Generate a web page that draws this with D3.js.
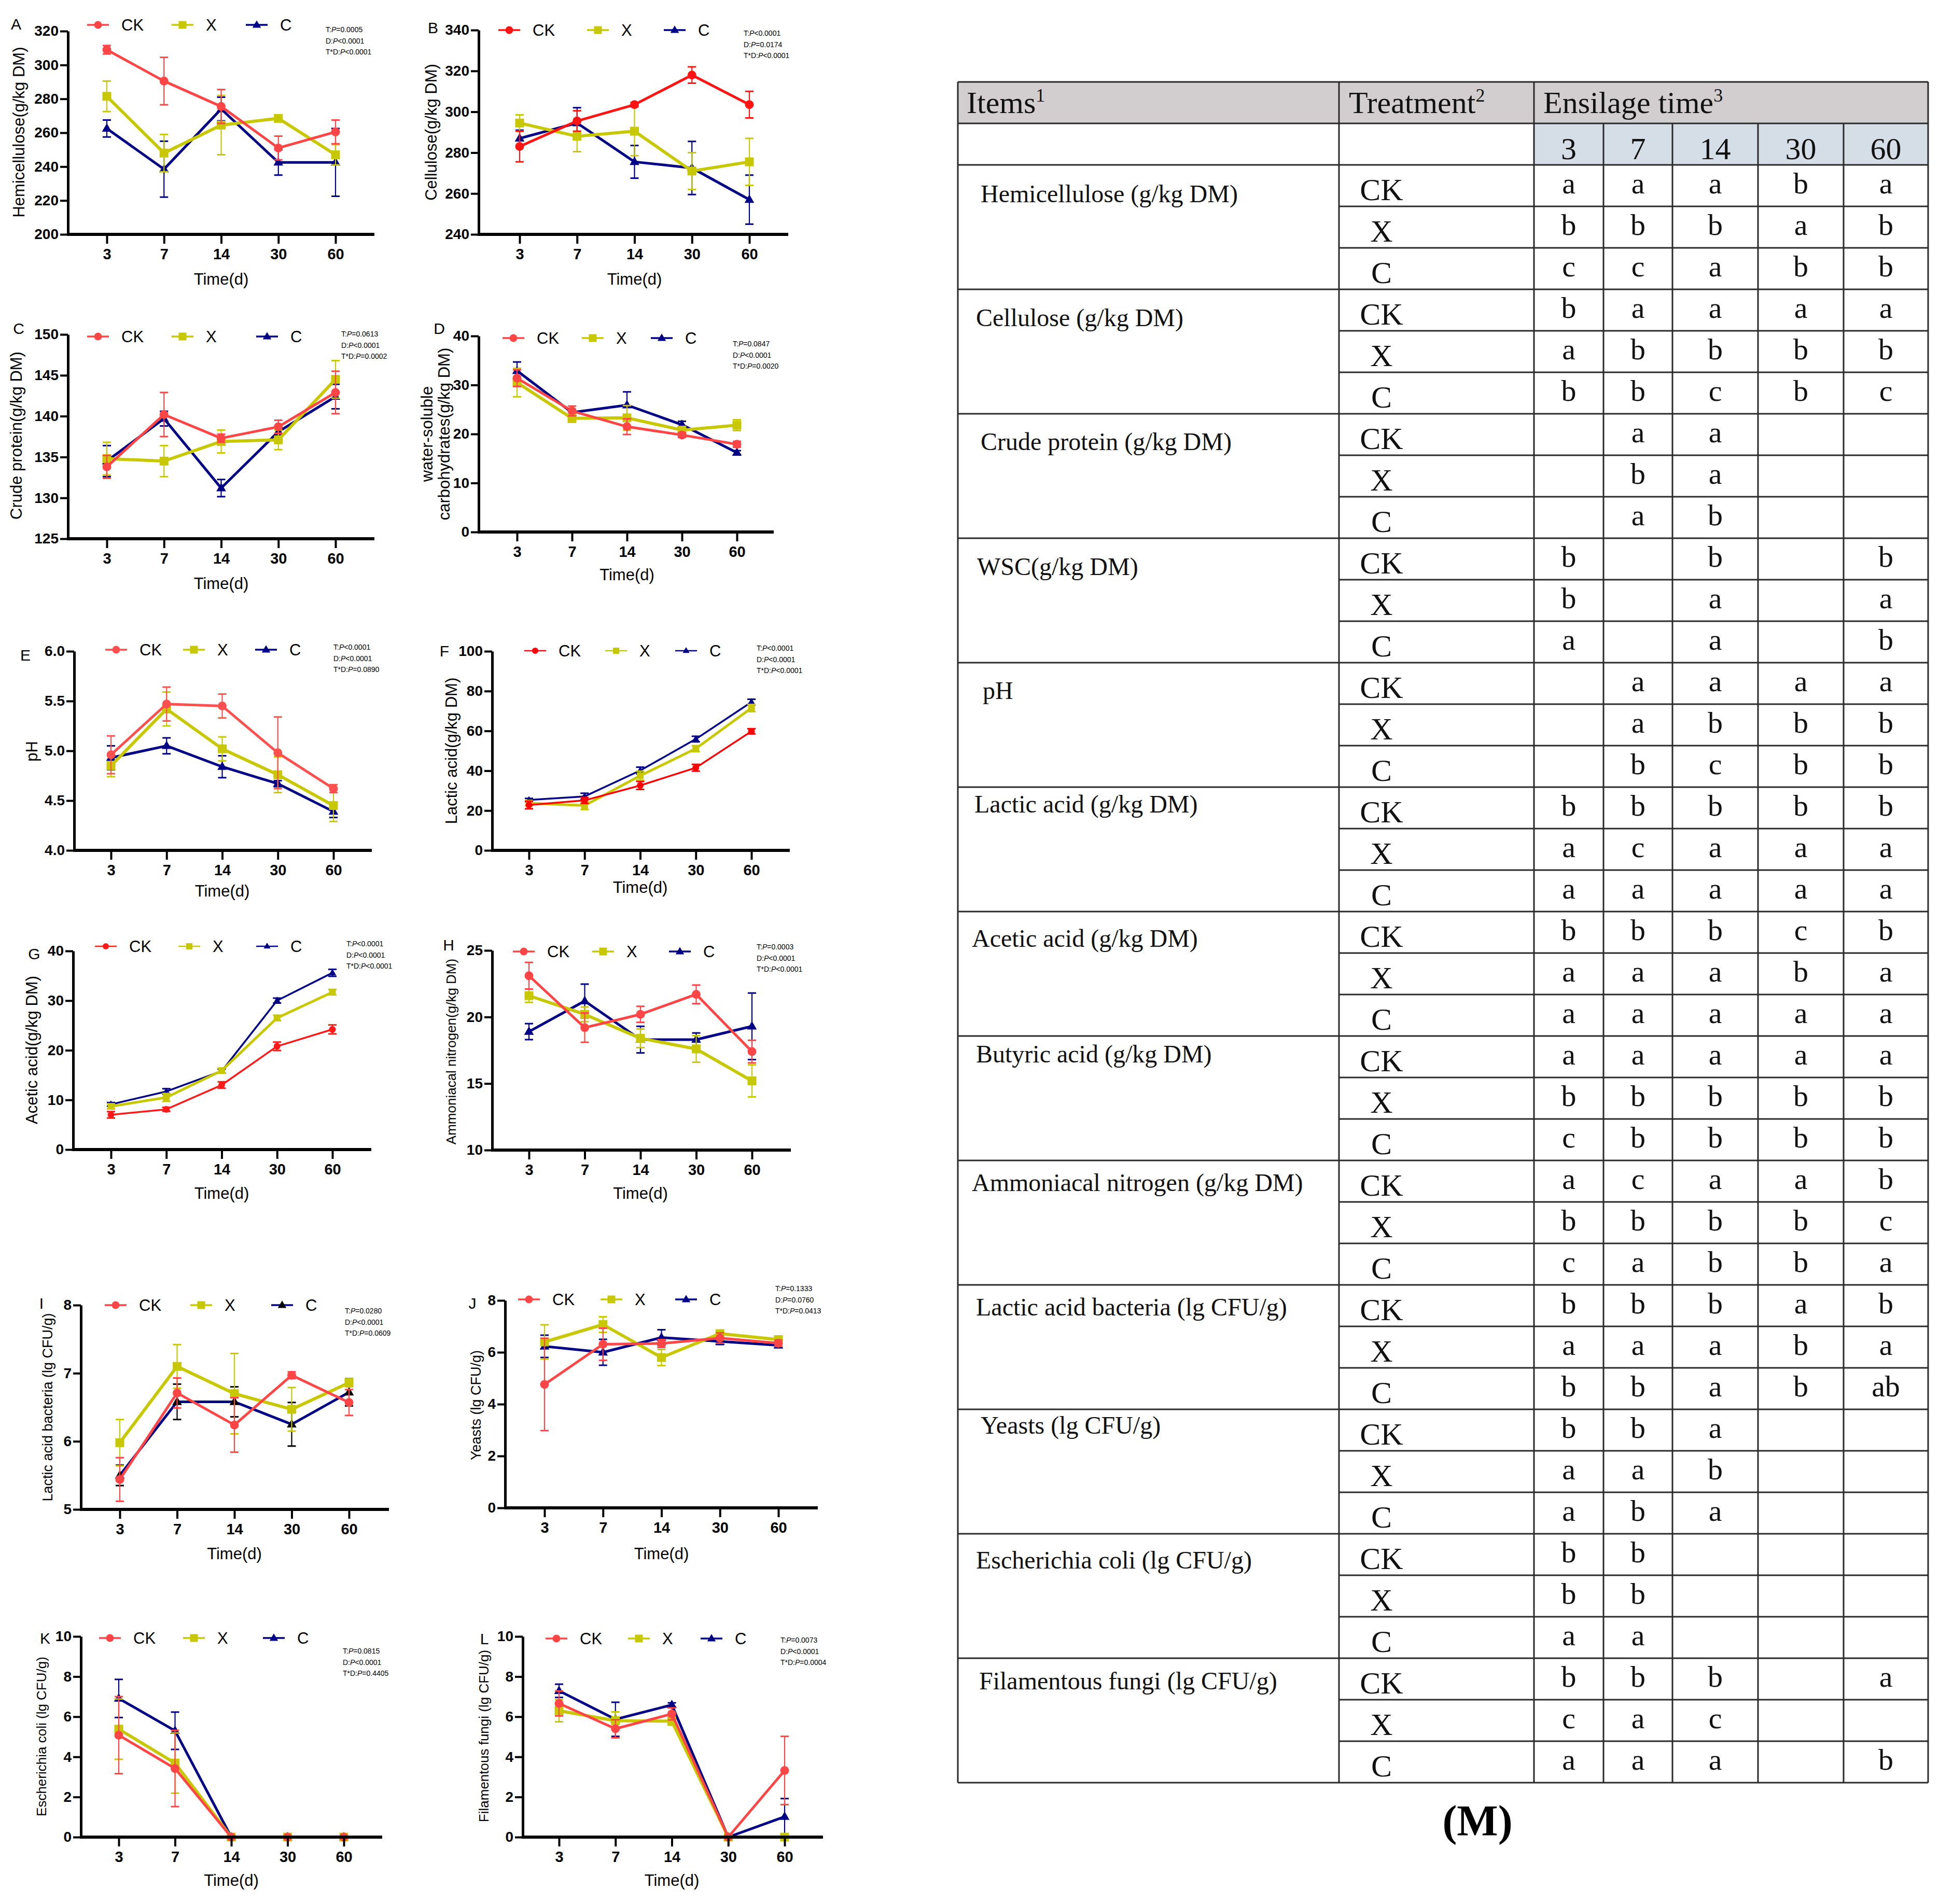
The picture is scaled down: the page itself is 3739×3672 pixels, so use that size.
<!DOCTYPE html>
<html><head><meta charset="utf-8">
<script src="https://cdn.jsdelivr.net/npm/d3@7/dist/d3.min.js"></script>
<style>body{margin:0;background:#fff}svg{display:block}</style>
</head><body>
<script>
const W = 3739, H = 3672;
const times = ["3", "7", "14", "30", "60"];
const treatments = ["CK", "X", "C"];

// ---- Panel A: Hemicellulose
const hemiCK = [309, 290.5, 275.5, 251, 260.5], hemiCKErr = [2.5, 14, 10, 7, 7];
const hemiX = [281.5, 248, 264.5, 268.5, 247], hemiXErr = [9, 11, 17.5, 2, 6];
const hemiC = [262.5, 238.5, 274, 242.5, 242.5], hemiCErr = [5, 16.5, 7, 7.5, 20];
// ---- Panel B: Cellulose
const celCK = [283, 295.5, 303.5, 318, 303.5], celCKErr = [7.5, 5, 1, 4, 6.5];
const celX = [294.5, 288, 290.5, 271, 275.5], celXErr = [4, 7.5, 12, 9, 11.5];
const celC = [287, 294.5, 275.5, 272.5, 257], celCErr = [4, 7.5, 8, 13, 12];
// ---- Panel C: Crude protein
const cpCK = [133.8, 140.2, 137.3, 138.7, 142.9], cpCKErr = [1.4, 2.7, 0.5, 0.8, 2.6];
const cpX = [134.8, 134.5, 136.9, 137.1, 144.5], cpXErr = [2, 1.9, 1.4, 1.2, 2.3];
const cpC = [134.5, 139.7, 131.2, 138.1, 142.4], cpCErr = [1.9, 0.9, 1.05, 0.5, 1.5];
// ---- Panel D: WSC
const wscCK = [31.4, 24.7, 21.5, 19.8, 17.9], wscCKErr = [1.7, 1, 1.6, 0.5, 0.6];
const wscX = [30.5, 23.2, 23.3, 20.8, 21.8], wscXErr = [2.9, 0.8, 2.5, 0.5, 1.1];
const wscC = [32.9, 24.4, 25.9, 21.9, 16.2], wscCErr = [1.8, 0.6, 2.7, 0.7, 0.4];
// ---- Panel E: pH
const phCK = [4.96, 5.47, 5.45, 4.98, 4.62], phCKErr = [0.19, 0.17, 0.12, 0.36, 0.04];
const phX = [4.85, 5.42, 5.02, 4.76, 4.45], phXErr = [0.11, 0.17, 0.12, 0.18, 0.16];
const phC = [4.93, 5.05, 4.84, 4.67, 4.39], phCErr = [0.12, 0.08, 0.11, 0.03, 0.06];
// ---- Panel F: Lactic acid
const laCK = [22.8, 25.1, 32.6, 41.5, 59.8], laCKErr = [1.9, 1.5, 2, 1.7, 1.3];
const laX = [23.7, 22.5, 37.5, 51.1, 71.5], laXErr = [1.3, 2, 2.3, 1.5, 1.8];
const laC = [25.3, 27.1, 40.1, 55.9, 74.5], laCErr = [0.8, 1.6, 1.7, 1.4, 1.4];
// ---- Panel G: Acetic acid
const aaCK = [7.0, 8.1, 13.0, 20.8, 24.2], aaCKErr = [0.65, 0.4, 0.65, 0.85, 0.9];
const aaX = [8.7, 10.5, 15.9, 26.5, 31.7], aaXErr = [0.5, 0.8, 0.5, 0.55, 0.55];
const aaC = [9.1, 11.7, 15.8, 30.0, 35.6], aaCErr = [0.37, 0.55, 0.4, 0.5, 0.7];
// ---- Panel H: Ammoniacal nitrogen
const anCK = [23.1, 19.2, 20.2, 21.7, 17.4], anCKErr = [1.0, 1.1, 0.6, 0.7, 0.85];
const anX = [21.6, 20.2, 18.4, 17.6, 15.2], anXErr = [0.5, 0.55, 0.7, 1.0, 1.2];
const anC = [18.9, 21.2, 18.3, 18.3, 19.3], anCErr = [0.6, 1.27, 1.0, 0.5, 2.5];
// ---- Panel I: Lactic acid bacteria
const labCK = [5.44, 6.71, 6.24, 6.97, 6.57], labCKErr = [0.32, 0.22, 0.4, 0.05, 0.19];
const labX = [5.98, 7.1, 6.7, 6.47, 6.86], labXErr = [0.34, 0.32, 0.59, 0.32, 0.06];
const labC = [5.5, 6.58, 6.58, 6.25, 6.72], labCErr = [0.15, 0.26, 0.22, 0.32, 0.2];
// ---- Panel J: Yeasts
const yeCK = [4.76, 6.31, 6.34, 6.55, 6.35], yeCKErr = [1.78, 0.62, 0.15, 0.2, 0.12];
const yeX = [6.4, 7.07, 5.8, 6.72, 6.49], yeXErr = [0.66, 0.3, 0.31, 0.1, 0.08];
const yeC = [6.23, 6.0, 6.57, 6.42, 6.27], yeCErr = [0.43, 0.5, 0.3, 0.12, 0.08];
// ---- Panel K: Escherichia coli
const ecCK = [5.08, 3.42, 0, 0, 0], ecCKErr = [1.92, 1.9, 0, 0, 0];
const ecX = [5.38, 3.69, 0, 0, 0], ecXErr = [1.5, 1.5, 0, 0, 0];
const ecC = [6.91, 5.3, 0, 0, 0], ecCErr = [0.95, 0.93, 0, 0, 0];
// ---- Panel L: Filamentous fungi
const ffCK = [6.66, 5.4, 6.14, 0, 3.32], ffCKErr = [0.62, 0.45, 0.3, 0, 1.7];
const ffX = [6.3, 5.8, 5.78, 0, 0], ffXErr = [0.55, 0.44, 0.2, 0, 0];
const ffC = [7.29, 5.87, 6.59, 0, 1.02], ffCErr = [0.33, 0.85, 0.1, 0, 0.9];

// ---- axis tick values
const ticksA = [200, 220, 240, 260, 280, 300, 320];
const ticksB = [240, 260, 280, 300, 320, 340];
const ticksC = [125, 130, 135, 140, 145, 150];
const ticksD = [0, 10, 20, 30, 40];
const ticksE = [4.0, 4.5, 5.0, 5.5, 6.0];
const ticksF = [0, 20, 40, 60, 80, 100];
const ticksG = [0, 10, 20, 30, 40];
const ticksH = [10, 15, 20, 25];
const ticksI = [5, 6, 7, 8];
const ticksJ = [0, 2, 4, 6, 8];
const ticksK = [0, 2, 4, 6, 8, 10];
const ticksL = [0, 2, 4, 6, 8, 10];

// ---- statistics texts
const statsA = ["T:|P|=0.0005", "D:|P|<0.0001", "T*D:|P|<0.0001"];
const statsB = ["T:|P|<0.0001", "D:|P|=0.0174", "T*D:|P|<0.0001"];
const statsC = ["T:|P|=0.0613", "D:|P|<0.0001", "T*D:|P|=0.0002"];
const statsD = ["T:|P|=0.0847", "D:|P|<0.0001", "T*D:|P|=0.0020"];
const statsE = ["T:|P|<0.0001", "D:|P|<0.0001", "T*D:|P|=0.0890"];
const statsF = ["T:|P|<0.0001", "D:|P|<0.0001", "T*D:|P|<0.0001"];
const statsG = ["T:|P|<0.0001", "D:|P|<0.0001", "T*D:|P|<0.0001"];
const statsH = ["T:|P|=0.0003", "D:|P|<0.0001", "T*D:|P|<0.0001"];
const statsI = ["T:|P|=0.0280", "D:|P|<0.0001", "T*D:|P|=0.0609"];
const statsJ = ["T:|P|=0.1333", "D:|P|=0.0760", "T*D:|P|=0.0413"];
const statsK = ["T:|P|=0.0815", "D:|P|<0.0001", "T*D:|P|=0.4405"];
const statsL = ["T:|P|=0.0073", "D:|P|<0.0001", "T*D:|P|=0.0004"];

// ---- table
const tableItems = ["Hemicellulose (g/kg DM)", "Cellulose (g/kg DM)", "Crude protein (g/kg DM)", "WSC(g/kg DM)", "pH",
  "Lactic acid (g/kg DM)", "Acetic acid (g/kg DM)", "Butyric acid (g/kg DM)", "Ammoniacal nitrogen (g/kg DM)",
  "Lactic acid bacteria (lg CFU/g)", "Yeasts (lg CFU/g)", "Escherichia coli (lg CFU/g)", "Filamentous fungi (lg CFU/g)"];
const lettersHemi = [["a","a","a","b","a"],["b","b","b","a","b"],["c","c","a","b","b"]];
const lettersCel = [["b","a","a","a","a"],["a","b","b","b","b"],["b","b","c","b","c"]];
const lettersCP = [["","a","a","",""],["","b","a","",""],["","a","b","",""]];
const lettersWSC = [["b","","b","","b"],["b","","a","","a"],["a","","a","","b"]];
const lettersPH = [["","a","a","a","a"],["","a","b","b","b"],["","b","c","b","b"]];
const lettersLA = [["b","b","b","b","b"],["a","c","a","a","a"],["a","a","a","a","a"]];
const lettersAA = [["b","b","b","c","b"],["a","a","a","b","a"],["a","a","a","a","a"]];
const lettersBA = [["a","a","a","a","a"],["b","b","b","b","b"],["c","b","b","b","b"]];
const lettersAN = [["a","c","a","a","b"],["b","b","b","b","c"],["c","a","b","b","a"]];
const lettersLAB = [["b","b","b","a","b"],["a","a","a","b","a"],["b","b","a","b","ab"]];
const lettersYE = [["b","b","a","",""],["a","a","b","",""],["a","b","a","",""]];
const lettersEC = [["b","b","","",""],["b","b","","",""],["a","a","","",""]];
const lettersFF = [["b","b","b","","a"],["c","a","c","",""],["a","a","a","","b"]];
const tableLetters = [lettersHemi, lettersCel, lettersCP, lettersWSC, lettersPH, lettersLA, lettersAA,
  lettersBA, lettersAN, lettersLAB, lettersYE, lettersEC, lettersFF];

// ================= drawing =================
const SANS = "'Liberation Sans', Arial, Helvetica, sans-serif";
const SERIF = "'Liberation Serif', 'Times New Roman', serif";
const NAVY = "#000086", OLIVE = "#c8c800";

const svg = d3.select("body").append("svg").attr("width", W).attr("height", H)
  .attr("viewBox", `0 0 ${W} ${H}`).style("background", "#fff");

const panels = [
  {id:"A", title:["Hemicellulose(g/kg DM)"], tfs:31, dom:[200,320], ticks:ticksA, fmt:d3.format("d"),
   data:{CK:[hemiCK,hemiCKErr], X:[hemiX,hemiXErr], C:[hemiC,hemiCErr]}, stats:statsA, ck:"#ff4545",
   L:{ax:131, top:60, bottom:452, xEnd:722, t0:206, t4:647, legY:48, legX:[189,352,495], sx:628, sy:57, lx:31, ly:46, tx:[36], ty:255, timeY:538}},
  {id:"B", title:["Cellulose(g/kg DM)"], tfs:31, dom:[240,340], ticks:ticksB, fmt:d3.format("d"),
   data:{CK:[celCK,celCKErr], X:[celX,celXErr], C:[celC,celCErr]}, stats:statsB, ck:"#ff1414",
   L:{ax:923, top:58, bottom:452, xEnd:1520, t0:1002, t4:1445, legY:58, legX:[982,1153,1301], sx:1434, sy:64, lx:835, ly:53, tx:[831], ty:255, timeY:538}},
  {id:"C", title:["Crude protein(g/kg DM)"], tfs:31, dom:[125,150], ticks:ticksC, fmt:d3.format("d"),
   data:{CK:[cpCK,cpCKErr], X:[cpX,cpXErr], C:[cpC,cpCErr]}, stats:statsC, ck:"#ff4545",
   L:{ax:131, top:645, bottom:1039, xEnd:722, t0:206, t4:647, legY:649, legX:[189,352,515], sx:658, sy:644, lx:36, ly:633, tx:[31], ty:840, timeY:1125}},
  {id:"D", title:["water-soluble","carbohydrates(g/kg DM)"], tfs:31, dom:[0,40], ticks:ticksD, fmt:d3.format("d"),
   data:{CK:[wscCK,wscCKErr], X:[wscX,wscXErr], C:[wscC,wscCErr]}, stats:statsD, ck:"#ff4545",
   L:{ax:923, top:648, bottom:1026, xEnd:1492, t0:997, t4:1421, legY:652, legX:[990,1143,1276], sx:1413, sy:663, lx:847, ly:633, tx:[823,856], ty:837, timeY:1108}},
  {id:"E", title:["pH"], tfs:31, dom:[4,6], ticks:ticksE, fmt:d3.format(".1f"),
   data:{CK:[phCK,phCKErr], X:[phX,phXErr], C:[phC,phCErr]}, stats:statsE, ck:"#ff5050",
   L:{ax:143, top:1256, bottom:1640, xEnd:717, t0:214, t4:643, legY:1253, legX:[224,374,513], sx:643, sy:1248, lx:49, ly:1263, tx:[61], ty:1449, timeY:1718}},
  {id:"F", title:["Lactic acid(g/kg DM)"], tfs:31, dom:[0,100], ticks:ticksF, fmt:d3.format("d"),
   data:{CK:[laCK,laCKErr], X:[laX,laXErr], C:[laC,laCErr]}, stats:statsF, ck:"#ff0000", thin:true,
   L:{ax:949, top:1256, bottom:1640, xEnd:1523, t0:1020, t4:1449, legY:1255, legX:[1032,1188,1323], sx:1459, sy:1250, lx:857, ly:1255, tx:[870], ty:1448, timeY:1711}},
  {id:"G", title:["Acetic acid(g/kg DM)"], tfs:31, dom:[0,40], ticks:ticksG, fmt:d3.format("d"),
   data:{CK:[aaCK,aaCKErr], X:[aaX,aaXErr], C:[aaC,aaCErr]}, stats:statsG, ck:"#ff1a1a", thin:true,
   L:{ax:141, top:1834, bottom:2217, xEnd:716, t0:214, t4:641, legY:1825, legX:[204,365,515], sx:668, sy:1820, lx:66, ly:1839, tx:[61], ty:2025, timeY:2301}},
  {id:"H", title:["Ammoniacal nitrogen(g/kg DM)"], tfs:26, dom:[10,25], ticks:ticksH, fmt:d3.format("d"),
   data:{CK:[anCK,anCKErr], X:[anX,anXErr], C:[anC,anCErr]}, stats:statsH, ck:"#ff4545",
   L:{ax:949, top:1833, bottom:2218, xEnd:1525, t0:1020, t4:1450, legY:1835, legX:[1010,1163,1311], sx:1459, sy:1826, lx:865, ly:1822, tx:[870], ty:2028, timeY:2301}},
  {id:"I", title:["Lactic acid bacteria (lg CFU/g)"], tfs:27, dom:[5,8], ticks:ticksI, fmt:d3.format("d"),
   data:{CK:[labCK,labCKErr], X:[labX,labXErr], C:[labC,labCErr]}, stats:statsI, ck:"#ff4545", cMarker:"#000",
   L:{ax:156, top:2517, bottom:2911, xEnd:750, t0:231, t4:673, legY:2517, legX:[223,388,544], sx:665, sy:2528, lx:80, ly:2513, tx:[92], ty:2714, timeY:2996}},
  {id:"J", title:["Yeasts (lg CFU/g)"], tfs:27, dom:[0,8], ticks:ticksJ, fmt:d3.format("d"),
   data:{CK:[yeCK,yeCKErr], X:[yeX,yeXErr], C:[yeC,yeCErr]}, stats:statsJ, ck:"#ff4545",
   L:{ax:974, top:2508, bottom:2908, xEnd:1577, t0:1050, t4:1501, legY:2506, legX:[1020,1179,1323], sx:1495, sy:2485, lx:911, ly:2513, tx:[918], ty:2710, timeY:2996}},
  {id:"K", title:["Escherichia coli (lg CFU/g)"], tfs:26, dom:[0,10], ticks:ticksK, fmt:d3.format("d"),
   data:{CK:[ecCK,ecCKErr], X:[ecX,ecXErr], C:[ecC,ecCErr]}, stats:statsK, ck:"#ff4545",
   L:{ax:156, top:3156, bottom:3543, xEnd:737, t0:229, t4:663, legY:3159, legX:[212,374,528], sx:661, sy:3184, lx:87, ly:3159, tx:[80], ty:3349, timeY:3626}},
  {id:"L", title:["Filamentous fungi (lg CFU/g)"], tfs:26, dom:[0,10], ticks:ticksL, fmt:d3.format("d"),
   data:{CK:[ffCK,ffCKErr], X:[ffX,ffXErr], C:[ffC,ffCErr]}, stats:statsL, ck:"#ff4545",
   L:{ax:1008, top:3156, bottom:3543, xEnd:1587, t0:1078, t4:1513, legY:3160, legX:[1073,1232,1372], sx:1505, sy:3163, lx:934, ly:3160, tx:[933], ty:3348, timeY:3626}}
];

function markerPath(shape, r) {
  if (shape === "circle") return d3.symbol(d3.symbolCircle, Math.PI * r * r)();
  if (shape === "square") return `M${-r},${-r}H${r}V${r}H${-r}Z`;
  const h = r * 1.9;
  return `M0,${-h * 0.62}L${r * 1.1},${h * 0.38}L${-r * 1.1},${h * 0.38}Z`;
}

function drawPanel(p) {
  const L = p.L;
  const g = svg.append("g").attr("class", "panel-" + p.id);
  const x = d3.scalePoint().domain(times).range([L.t0, L.t4]);
  const y = d3.scaleLinear().domain(p.dom).range([L.bottom, L.top]);

  const colors = {CK: p.ck, X: OLIVE, C: NAVY};
  const markColors = {CK: p.ck, X: OLIVE, C: p.cMarker || NAVY};
  const shapes = {CK: "circle", X: "square", C: "triangle"};
  const lw = p.thin ? {CK: 3.5, X: 5, C: 3.5} : {CK: 5, X: 6, C: 5};
  const mr = p.thin ? 6.5 : 8.5;

  // series (draw C first, CK on top)
  ["C", "X", "CK"].forEach(s => {
    const [vals, errs] = p.data[s];
    const pts = times.map((t, i) => ({t, v: vals[i], e: errs[i]}));
    const sg = g.append("g");
    // error bars
    pts.filter(d => d.e > 0).forEach(d => {
      const lo = Math.max(d.v - d.e, p.dom[0]), hi = d.v + d.e;
      const cx = x(d.t);
      sg.append("line").attr("x1", cx).attr("x2", cx).attr("y1", y(lo)).attr("y2", y(hi))
        .attr("stroke", markColors[s]).attr("stroke-width", 2.2);
      sg.append("line").attr("x1", cx - 8).attr("x2", cx + 8).attr("y1", y(hi)).attr("y2", y(hi))
        .attr("stroke", markColors[s]).attr("stroke-width", 3);
      if (d.v - d.e > p.dom[0])
        sg.append("line").attr("x1", cx - 8).attr("x2", cx + 8).attr("y1", y(lo)).attr("y2", y(lo))
          .attr("stroke", markColors[s]).attr("stroke-width", 3);
    });
    sg.append("path").datum(pts)
      .attr("d", d3.line().x(d => x(d.t)).y(d => y(d.v)))
      .attr("fill", "none").attr("stroke", colors[s]).attr("stroke-width", lw[s]).attr("stroke-linejoin", "round");
    sg.selectAll("path.mk").data(pts).join("path").attr("class", "mk")
      .attr("transform", d => `translate(${x(d.t)},${y(d.v)})`)
      .attr("d", markerPath(shapes[s], mr)).attr("fill", markColors[s]);
  });

  // y axis
  const ya = g.append("g").attr("transform", `translate(${L.ax},0)`)
    .call(d3.axisLeft(y).tickValues(p.ticks).tickSize(15).tickSizeOuter(0).tickPadding(3).tickFormat(p.fmt));
  ya.select(".domain").attr("stroke", "#000").attr("stroke-width", 5);
  ya.selectAll(".tick line").attr("stroke", "#000").attr("stroke-width", 4);
  ya.selectAll(".tick text").attr("font-family", SANS).attr("font-size", 28).attr("font-weight", "bold").attr("fill", "#000");

  // x axis
  const xa = g.append("g").attr("transform", `translate(0,${L.bottom})`)
    .call(d3.axisBottom(x).tickSize(18).tickSizeOuter(0).tickPadding(9));
  xa.select(".domain").remove();
  xa.selectAll(".tick line").attr("stroke", "#000").attr("stroke-width", 4);
  xa.selectAll(".tick text").attr("font-family", SANS).attr("font-size", 29).attr("font-weight", "bold").attr("fill", "#000");
  g.append("line").attr("x1", L.ax - 2).attr("x2", L.xEnd).attr("y1", L.bottom).attr("y2", L.bottom)
    .attr("stroke", "#000").attr("stroke-width", 6);

  // x title
  g.append("text").attr("x", (L.t0 + L.t4) / 2).attr("y", L.timeY).attr("text-anchor", "middle")
    .attr("dominant-baseline", "central").attr("font-family", SANS).attr("font-size", 31).text("Time(d)");

  // y title
  p.title.forEach((t, i) => {
    g.append("text").attr("transform", `translate(${L.tx[i]},${L.ty}) rotate(-90)`)
      .attr("text-anchor", "middle").attr("dominant-baseline", "central")
      .attr("font-family", SANS).attr("font-size", p.tfs).text(t);
  });

  // panel letter
  g.append("text").attr("x", L.lx).attr("y", L.ly).attr("text-anchor", "middle").attr("dominant-baseline", "central")
    .attr("font-family", SANS).attr("font-size", 30).text(p.id);

  // legend
  treatments.forEach((s, i) => {
    const cx = L.legX[i];
    g.append("line").attr("x1", cx - 21).attr("x2", cx + 21).attr("y1", L.legY).attr("y2", L.legY)
      .attr("stroke", colors[s]).attr("stroke-width", p.thin ? 2.5 : 3.5);
    g.append("path").attr("transform", `translate(${cx},${L.legY})`)
      .attr("d", markerPath(shapes[s], p.thin ? 6 : 7.5)).attr("fill", markColors[s]);
    g.append("text").attr("x", cx + 45).attr("y", L.legY).attr("dominant-baseline", "central")
      .attr("font-family", SANS).attr("font-size", 31).text(s);
  });

  // stats
  p.stats.forEach((s, i) => {
    const parts = s.split("|");
    const t = g.append("text").attr("x", L.sx).attr("y", L.sy + i * 21.5).attr("dominant-baseline", "central")
      .attr("font-family", SANS).attr("font-size", 14);
    t.append("tspan").text(parts[0]);
    t.append("tspan").attr("font-style", "italic").text(parts[1]);
    t.append("tspan").text(parts[2]);
  });
}
panels.forEach(drawPanel);

// ================= table =================
const colX = [1847, 2582, 2958, 3092, 3225, 3390, 3555, 3718];
const tTop = 158, rowH = 80, nRows = 2 + tableItems.length * 3;
const tBottom = tTop + nRows * rowH;
const itemX = [1891, 1882, 1891, 1884, 1895, 1879, 1874, 1882, 1874, 1882, 1891, 1882, 1888];
const itemDy = [72, 71, 70, 71, 70, 49, 68, 51, 59, 59, 47, 67, 60];
const tg = svg.append("g").attr("class", "table");
const LINE = "#2a2a2a";

tg.append("rect").attr("x", colX[0]).attr("y", tTop).attr("width", colX[7] - colX[0]).attr("height", rowH).attr("fill", "#d2cecf");
tg.append("rect").attr("x", colX[2]).attr("y", tTop + rowH).attr("width", colX[7] - colX[2]).attr("height", rowH).attr("fill", "#d5dee6");

function hline(x1, x2, yy) { tg.append("line").attr("x1", x1).attr("x2", x2).attr("y1", yy).attr("y2", yy).attr("stroke", LINE).attr("stroke-width", 3); }
function vline(xx, y1, y2) { tg.append("line").attr("x1", xx).attr("x2", xx).attr("y1", y1).attr("y2", y2).attr("stroke", LINE).attr("stroke-width", 3); }

hline(colX[0], colX[7], tTop);
hline(colX[0], colX[7], tTop + rowH);
hline(colX[0], colX[7], tTop + 2 * rowH);
for (let k = 3; k <= nRows; k++) {
  const full = ((k - 2) % 3 === 0);
  hline(full ? colX[0] : colX[1], colX[7], tTop + k * rowH);
}
vline(colX[0], tTop, tBottom);
vline(colX[1], tTop, tBottom);
vline(colX[2], tTop, tBottom);
for (let c = 3; c <= 6; c++) vline(colX[c], tTop + rowH, tBottom);
vline(colX[7], tTop, tBottom);

function supText(x, y, main, sup) {
  const t = tg.append("text").attr("x", x).attr("y", y).attr("font-family", SERIF).attr("font-size", 60).attr("fill", "#111");
  t.append("tspan").text(main);
  t.append("tspan").attr("dy", -22).attr("font-size", 36).text(sup);
}
supText(1864, tTop + 60, "Items", "1");
supText(2601, tTop + 60, "Treatment", "2");
supText(2976, tTop + 60, "Ensilage time", "3");

times.forEach((t, i) => {
  tg.append("text").attr("x", (colX[2 + i] + colX[3 + i]) / 2).attr("y", tTop + rowH + 69)
    .attr("text-anchor", "middle").attr("font-family", SERIF).attr("font-size", 60).attr("fill", "#111").text(t);
});

tableItems.forEach((item, gi) => {
  const gTop = tTop + (2 + gi * 3) * rowH;
  tg.append("text").attr("x", itemX[gi]).attr("y", gTop + itemDy[gi])
    .attr("font-family", SERIF).attr("font-size", 48).attr("fill", "#111").text(item);
  treatments.forEach((tr, ri) => {
    const rTop = gTop + ri * rowH;
    tg.append("text").attr("x", 2664).attr("y", rTop + 68).attr("text-anchor", "middle")
      .attr("font-family", SERIF).attr("font-size", 60).attr("fill", "#111").text(tr);
    tableLetters[gi][ri].forEach((lt, ci) => {
      if (!lt) return;
      tg.append("text").attr("x", (colX[2 + ci] + colX[3 + ci]) / 2).attr("y", rTop + 55)
        .attr("text-anchor", "middle").attr("font-family", SERIF).attr("font-size", 58).attr("fill", "#111").text(lt);
    });
  });
});

tg.append("text").attr("x", 2849).attr("y", 3540).attr("text-anchor", "middle")
  .attr("font-family", SERIF).attr("font-size", 84).attr("font-weight", "bold").attr("fill", "#000").text("(M)");
</script>
</body></html>
